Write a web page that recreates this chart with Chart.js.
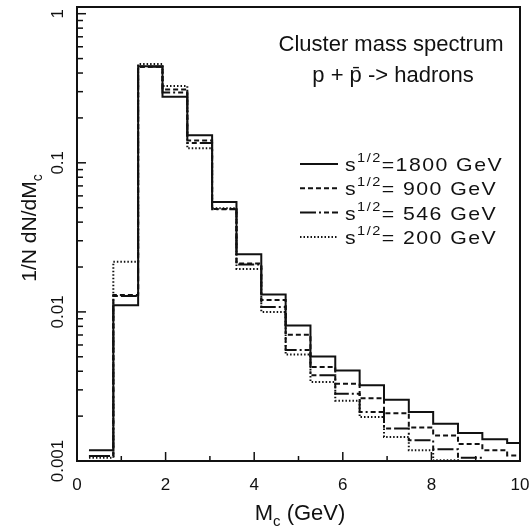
<!DOCTYPE html>
<html>
<head>
<meta charset="utf-8">
<script src="https://cdn.jsdelivr.net/npm/chart.js@4.4.0/dist/chart.umd.min.js"></script>
<style>
html, body { margin: 0; padding: 0; background: #fff; }
#grafica { display: block; }
</style>
</head>
<body>
<canvas id="grafica" width="529" height="529"></canvas>
<script>
// bordes de los bins en M_c (GeV)
const bordes = [0.27, 0.82, 1.38, 1.93, 2.49, 3.05, 3.6, 4.16, 4.71, 5.27, 5.83, 6.38, 6.93, 7.49, 8.04, 8.6, 9.15, 9.71, 10];

// 1/N dN/dMc por bin (0.0008 = debajo del eje)
const s1800 = [0.00118, 0.0111, 0.445, 0.277, 0.153, 0.0545, 0.0244, 0.0131, 0.0081, 0.00503, 0.00404, 0.00322, 0.00258, 0.00213, 0.00178, 0.00154, 0.0014, 0.00132];
const s900  = [0.00108, 0.013, 0.44, 0.31, 0.141, 0.049, 0.0211, 0.012, 0.00702, 0.00427, 0.0033, 0.00264, 0.00209, 0.00168, 0.00148, 0.0013, 0.00118, 0.00109];
const s546  = [0.00108, 0.0128, 0.44, 0.296, 0.136, 0.0488, 0.0208, 0.0108, 0.00555, 0.00376, 0.00282, 0.00213, 0.00165, 0.00138, 0.0012, 0.00105, 0.0008, 0.0008];
const s200  = [0.00105, 0.0217, 0.46, 0.327, 0.125, 0.0495, 0.0194, 0.0100, 0.00518, 0.00339, 0.00254, 0.00197, 0.00145, 0.00118, 0.00101, 0.0008, 0.0008, 0.0008];

const energias = ["1800", " 900", " 546", " 200"];
const trazos = [[], [5, 3], [16, 3, 2, 3, 5, 3], [1.5, 2]];

const ticksX = [0, 2, 4, 6, 8, 10];
const ticksY = [1, 0.1, 0.01, 0.001];
const etiquetasY = ["1", "0.1", "0.01", "0.001"];

const FUENTE = '"Liberation Sans", Arial, sans-serif';

function pasos(valores) {
    const pts = valores.map((v, i) => ({ x: bordes[i], y: v }));
    pts.push({ x: bordes[bordes.length - 1], y: valores[valores.length - 1] });
    return pts;
}

function serie(nombre, valores, dash) {
    return {
        label: nombre,
        data: pasos(valores),
        stepped: true,
        borderColor: "#111",
        borderWidth: 2,
        borderDash: dash,
        pointRadius: 0,
        fill: false
    };
}

// texto con partes de distinto tamaño (sub/superindices), estirado en x
function textoCompuesto(ctx, partes, x, y, align, estira) {
    estira = estira || 1;
    let ancho = 0;
    partes.forEach(p => {
        ctx.font = p[1] + "px " + FUENTE;
        ancho += ctx.measureText(p[0]).width;
    });
    ctx.save();
    ctx.translate(align === "center" ? x - ancho * estira / 2 : x, y);
    ctx.scale(estira, 1);
    let cx = 0;
    partes.forEach(p => {
        ctx.font = p[1] + "px " + FUENTE;
        ctx.fillText(p[0], cx, p[2]);
        cx += ctx.measureText(p[0]).width;
    });
    ctx.restore();
}

const marco = {
    id: "marco",
    afterDraw(chart) {
        const ctx = chart.ctx;
        const a = chart.chartArea;
        const sx = chart.scales.x;
        const sy = chart.scales.y;
        ctx.save();
        ctx.strokeStyle = "#111";
        ctx.fillStyle = "#111";
        ctx.lineWidth = 2;
        ctx.strokeRect(a.left, a.top, a.right - a.left, a.bottom - a.top);

        // ticks menores del eje y
        ctx.lineWidth = 1.5;
        for (let d = 0.001; d < 2; d *= 10) {
            for (let m = 1; m <= 9; m++) {
                const v = m * d;
                if (v > sy.max) continue;
                const py = sy.getPixelForValue(v);
                ctx.beginPath();
                ctx.moveTo(a.left, py);
                ctx.lineTo(a.left + (m === 1 ? 9 : 6), py);
                ctx.stroke();
            }
        }
        // ticks del eje x
        for (let v = 0; v <= 10; v++) {
            const px = sx.getPixelForValue(v);
            ctx.beginPath();
            ctx.moveTo(px, a.bottom);
            ctx.lineTo(px, a.bottom - (v % 2 === 0 ? 9 : 5));
            ctx.stroke();
        }

        // etiquetas eje x
        ctx.textAlign = "center";
        ctx.textBaseline = "alphabetic";
        ctx.font = "17px " + FUENTE;
        ticksX.forEach(v => ctx.fillText(String(v), sx.getPixelForValue(v), a.bottom + 29));

        // etiquetas eje y (giradas)
        ticksY.forEach((v, i) => {
            ctx.save();
            ctx.translate(a.left - 14, sy.getPixelForValue(v));
            ctx.rotate(-Math.PI / 2);
            ctx.font = "17px " + FUENTE;
            ctx.textAlign = "center";
            ctx.fillText(etiquetasY[i], 0, 0);
            ctx.restore();
        });

        // titulo eje x
        ctx.textAlign = "left";
        textoCompuesto(ctx, [["M", 22, 0], ["c", 15, 6], [" (GeV)", 22, 0]], 300, 520, "center");

        // titulo eje y
        ctx.save();
        ctx.translate(36, 228);
        ctx.rotate(-Math.PI / 2);
        textoCompuesto(ctx, [["1/N dN/dM", 21, 0], ["c", 14, 6]], 0, 0, "center");
        ctx.restore();

        // titulo
        ctx.font = "22px " + FUENTE;
        ctx.textAlign = "center";
        ctx.fillText("Cluster mass spectrum", 391, 51);
        ctx.fillText("p + p\u0304 -> hadrons", 393, 82);

        // leyenda
        ctx.textAlign = "left";
        ctx.letterSpacing = "1.3px";
        chart.data.datasets.forEach((ds, i) => {
            const py = 164 + i * 24.3;
            ctx.save();
            ctx.lineWidth = 2;
            ctx.setLineDash(ds.borderDash);
            ctx.beginPath();
            ctx.moveTo(300, py);
            ctx.lineTo(338, py);
            ctx.stroke();
            ctx.restore();
            textoCompuesto(ctx, [["s", 19, 0], ["1/2", 13, -9], ["=" + energias[i] + " GeV", 19, 0]], 345, py + 7, "left", 1.12);
        });
        ctx.restore();
    }
};

const config = {
    type: "line",
    data: {
        datasets: [
            serie("s1/2=1800 GeV", s1800, trazos[0]),
            serie("s1/2=900 GeV", s900, trazos[1]),
            serie("s1/2=546 GeV", s546, trazos[2]),
            serie("s1/2=200 GeV", s200, trazos[3])
        ]
    },
    plugins: [marco],
    options: {
        responsive: false,
        animation: false,
        devicePixelRatio: 1,
        layout: { padding: { left: 77, right: 9, top: 7, bottom: 68 } },
        plugins: {
            legend: { display: false },
            tooltip: { enabled: false }
        },
        scales: {
            x: {
                type: "linear",
                min: 0,
                max: 10,
                ticks: { display: false },
                grid: { display: false, drawTicks: false },
                border: { display: false }
            },
            y: {
                type: "logarithmic",
                min: 0.001,
                max: 1.109,
                ticks: { display: false },
                grid: { display: false, drawTicks: false },
                border: { display: false }
            }
        }
    }
};

const grafica = new Chart(document.getElementById("grafica"), config);
</script>
</body>
</html>
